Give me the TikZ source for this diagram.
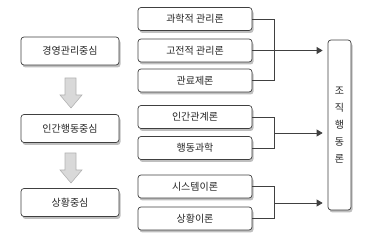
\documentclass[tikz,border=0pt]{standalone}
\usepackage{fontspec}
\setmainfont{Noto Sans CJK KR}
\usetikzlibrary{shadows,arrows.meta}
\begin{document}
\begin{tikzpicture}[x=1pt,y=-1pt,
  box/.style={draw=black!75,line width=0.7pt,rounded corners=3pt,fill=white,
    drop shadow={shadow xshift=1.5pt,shadow yshift=-2.5pt,fill=black!25,opacity=1},
    font=\fontsize{10}{11}\selectfont,text=black!85,inner sep=0pt},
  lbox/.style={box,minimum width=98pt,minimum height=28pt},
  mbox/.style={box,minimum width=114pt,minimum height=23pt},
  conn/.style={draw=black!75,line width=0.7pt},
  arr/.style={conn,-{Triangle[length=6pt,width=7pt]},shorten >=5pt},
  blockarr/.style={fill=black!15,draw=black!30,line width=0.6pt}]
\useasboundingbox (0,0) rectangle (391,245);
% left column
\node[lbox] (l1) at (70,51) {경영관리중심};
\node[lbox] (l2) at (70,128.5) {인간행동중심};
\node[lbox] (l3) at (70,202.5) {상황중심};
% block arrows
\draw[blockarr] (65,78) -- (76,78) -- (76,95) -- (82,95) -- (71,108) -- (60,95) -- (65,95) -- cycle;
\draw[blockarr] (65,153) -- (76,153) -- (76,170) -- (82,170) -- (71,183) -- (60,170) -- (65,170) -- cycle;
% middle column
\node[mbox] (m1) at (195,19) {과학적 관리론};
\node[mbox] (m2) at (195,50.5) {고전적 관리론};
\node[mbox] (m3) at (195,80.5) {관료제론};
\node[mbox] (m4) at (195,117) {인간관계론};
\node[mbox] (m5) at (195,148) {행동과학};
\node[mbox] (m6) at (195,186.5) {시스템이론};
\node[mbox] (m7) at (195,218.5) {상황이론};
% right box
\node[box,minimum width=23pt,minimum height=170pt,font=\fontsize{10}{17}\selectfont,align=center] (r) at (339.5,125) {조\\직\\행\\동\\론};
% connectors
\coordinate (j1) at (274,51);
\coordinate (j2) at (274,133);
\coordinate (j3) at (274,203);
\draw[conn] (m1.east) -| (274,80.5) -- (m3.east);
\draw[arr] (m2.east) -- (m2.east -| r.west);
\draw[conn] (m4.east) -| (274,148) -- (m5.east);
\draw[arr] (j2) -- (j2 -| r.west);
\draw[conn] (m6.east) -| (274,218.5) -- (m7.east);
\draw[arr] (j3) -- (j3 -| r.west);
\end{tikzpicture}
\end{document}
